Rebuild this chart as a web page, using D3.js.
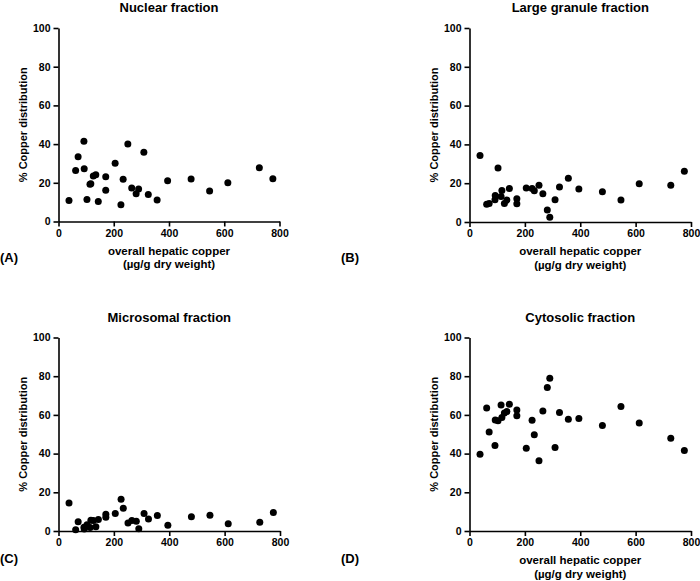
<!DOCTYPE html>
<html>
<head>
<meta charset="utf-8">
<script src="https://cdn.jsdelivr.net/npm/d3@7"></script>
<style>
  body { margin: 0; background: #fff; }
  svg { display: block; font-family: "Liberation Sans", Arial, sans-serif; font-weight: bold; }
</style>
</head>
<body>
<svg id="chart" width="700" height="581"></svg>
<script>
// Overall hepatic copper (µg/g dry weight) per sample, shared by all panels
const hepaticCopper = [38, 62, 71, 92, 93, 103, 114, 117, 126, 135, 144, 171, 171, 205, 226, 234, 251, 265, 281, 290, 309, 325, 357, 395, 480, 547, 613, 727, 776];

// % copper distribution per fraction
const nuclear   = [10.9, 26.3, 33.5, 41.5, 27.3, 11.4, 19.2, 19.5, 23.5, 24.2, 10.4, 23.1, 16.2, 30.1, 8.6, 21.8, 40.1, 17.3, 14.3, 16.8, 35.8, 14.0, 11.1, 21.1, 21.9, 15.7, 20.0, 27.8, 22.1];
const largeGranule = [34.3, 9.1, 9.6, 11.5, 13.7, 27.8, 13.2, 16.3, 9.6, 11.3, 17.3, 9.4, 12.0, 17.5, 17.3, 16.1, 18.9, 14.6, 6.2, 2.4, 11.5, 18.0, 22.5, 17.0, 15.6, 11.3, 19.7, 19.0, 26.2];
const microsomal = [14.5, 0.6, 4.8, 2.0, 1.0, 3.2, 1.8, 5.5, 5.4, 2.2, 6.0, 7.1, 8.7, 9.1, 16.4, 11.7, 4.1, 5.4, 5.1, 1.2, 9.1, 6.2, 8.0, 3.0, 7.4, 8.1, 3.8, 4.5, 9.5];
const cytosolic = [39.7, 63.6, 51.2, 44.2, 57.4, 57.0, 65.1, 58.6, 61.0, 61.7, 65.5, 59.6, 62.5, 42.8, 57.2, 49.8, 36.3, 62.0, 74.1, 78.9, 43.1, 61.2, 57.7, 58.2, 54.5, 64.4, 55.8, 47.9, 41.6];

const panelTitles = ["Nuclear fraction", "Large granule fraction", "Microsomal fraction", "Cytosolic fraction"];
const panelLetters = ["(A)", "(B)", "(C)", "(D)"];
const seriesList = [nuclear, largeGranule, microsomal, cytosolic];
const showXTitle = [true, true, false, true];
const xTicks = [0, 200, 400, 600, 800];
const yTicks = [0, 20, 40, 60, 80, 100];
const yTitle = "% Copper distribution";
const xTitle1 = "overall hepatic copper";
const xTitle2 = "(µg/g dry weight)";

const svg = d3.select("#chart");

// layout of each panel (plot area)
const layout = [
  {x0: 58.5, x1: 279.5, y0: 221.5, y1: 28, lx: 0, ly: 262},
  {x0: 469.5, x1: 691, y0: 222, y1: 28, lx: 341, ly: 262},
  {x0: 58.5, x1: 280, y0: 531, y1: 337.5, lx: 0, ly: 563},
  {x0: 469.5, x1: 691, y0: 531, y1: 337.5, lx: 341, ly: 563}
];

seriesList.forEach((vals, i) => {
  const L = layout[i];
  const x = d3.scaleLinear().domain([0, 800]).range([L.x0, L.x1]);
  const y = d3.scaleLinear().domain([0, 100]).range([L.y0, L.y1]);
  const g = svg.append("g");

  const xAxis = g.append("g")
    .attr("transform", `translate(0,${L.y0})`)
    .call(d3.axisBottom(x).tickValues(xTicks).tickSize(5).tickPadding(3).tickSizeOuter(0));
  const yAxis = g.append("g")
    .attr("transform", `translate(${L.x0},0)`)
    .call(d3.axisLeft(y).tickValues(yTicks).tickSize(5).tickPadding(3).tickSizeOuter(0));

  [xAxis, yAxis].forEach(a => {
    a.select(".domain").attr("stroke", "#000").attr("stroke-width", 1.6);
    a.selectAll(".tick line").attr("stroke", "#000").attr("stroke-width", 1.6);
    a.selectAll(".tick text").attr("fill", "#000")
      .style("font-size", "10.5px").style("font-weight", "bold")
      .style("font-family", '"Liberation Sans", Arial, sans-serif');
  });

  // points
  g.selectAll("circle").data(hepaticCopper.map((h, k) => [h, vals[k]]))
    .enter().append("circle")
    .attr("cx", d => x(d[0]))
    .attr("cy", d => y(d[1]))
    .attr("r", 3.5)
    .attr("fill", "#000");

  const cx = (L.x0 + L.x1) / 2;
  // panel title
  g.append("text").attr("x", cx).attr("y", L.y1 - 16)
    .attr("text-anchor", "middle").style("font-size", "13px").text(panelTitles[i]);

  // y title
  g.append("text")
    .attr("transform", `translate(${L.x0 - 32},${(L.y0 + L.y1) / 2}) rotate(-90)`)
    .attr("text-anchor", "middle").style("font-size", "11px").text(yTitle);

  if (showXTitle[i]) {
    g.append("text").attr("x", cx).attr("y", L.y0 + 33)
      .attr("text-anchor", "middle").style("font-size", "11.5px").text(xTitle1);
    g.append("text").attr("x", cx).attr("y", L.y0 + 46.5)
      .attr("text-anchor", "middle").style("font-size", "11.5px").text(xTitle2);
  }

  g.append("text").attr("x", L.lx).attr("y", L.ly)
    .style("font-size", "13px").text(panelLetters[i]);
});
</script>
</body>
</html>
